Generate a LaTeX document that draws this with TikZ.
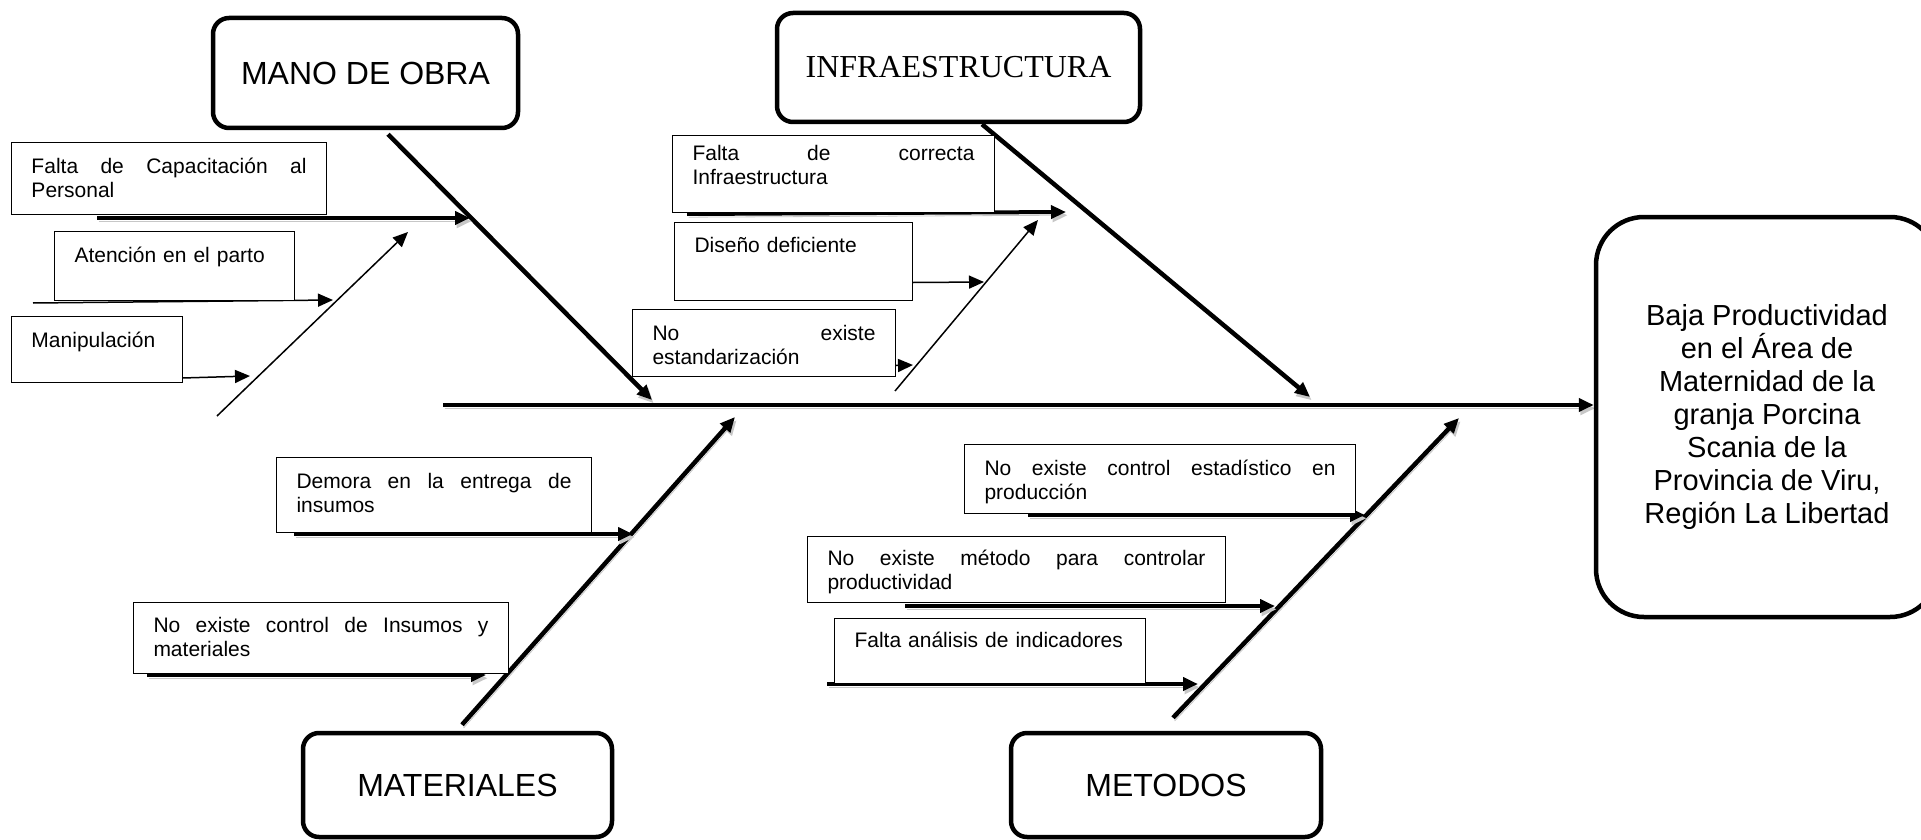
\documentclass[tikz,border=0pt]{standalone}
\usepackage{fontspec}
\setmainfont{Liberation Sans}
\newfontfamily\tnr{Liberation Serif}
\usetikzlibrary{arrows.meta,calc}
\pgfdeclarelayer{bg}
\pgfsetlayers{bg,main}
\tikzset{
  catbox/.style={draw, line width=2.25pt, rounded corners=8pt, fill=white, inner sep=0pt, align=center, font=\fontsize{16pt}{19pt}\selectfont},
  causebox/.style={draw, line width=0.5pt, fill=white, anchor=base west, inner xsep=10pt, inner ysep=0pt, align=left, font=\fontsize{10.5pt}{12pt}\selectfont},
  headtip/.style={-{Triangle[length=7.5pt,width=6.5pt]}},
  shade/.style={preaction={draw=black!22, transform canvas={shift={(0.8pt,-1.6pt)}}}},
  spineline/.style={line width=2pt, headtip, shade},
  boneline/.style={line width=2.25pt, headtip, shade},
  thickarr/.style={line width=2pt, headtip, shade},
  thinarr/.style={line width=0.75pt, headtip},
}
\begin{document}
\begin{tikzpicture}[x=0.5pt, y=-0.5pt]
\path[use as bounding box] (0,0) rectangle (1921,840);

% category boxes
\node[catbox, minimum width=152.5pt, minimum height=55pt] (mano) at (365.5,73) {MANO DE OBRA};
\node[catbox, minimum width=181.5pt, minimum height=54.5pt, font=\tnr\fontsize{16pt}{19pt}\selectfont] (infra) at (958.5,67.5) {INFRAESTRUCTURA};
\node[catbox, minimum width=154.5pt, minimum height=52pt] (mat) at (457.5,785) {MATERIALES};
\node[catbox, minimum width=155pt, minimum height=52pt] (met) at (1166,785) {METODOS};
\node[catbox, rounded corners=24pt, minimum width=171pt, minimum height=200pt, font=\fontsize{14.5pt}{16.5pt}\selectfont] (eff) at (1767,417) {Baja Productividad\\en el Área de\\Maternidad de la\\granja Porcina\\Scania de la\\Provincia de Viru,\\Región La Libertad};

% cause boxes
\node[causebox, text width=137.5pt, text height=15.5pt, text depth=20.5pt] (fcap) at (11,173) {Falta\hfill de\hfill Capacitación\hfill al\\Personal};
\node[causebox, text width=100pt, text height=15.5pt, text depth=19pt] (aten) at (54,262) {Atención en el parto};
\node[causebox, text width=65.5pt, text height=15.5pt, text depth=17.5pt] (manip) at (11,347) {Manipulación};
\node[causebox, text width=141pt, text height=12.5pt, text depth=25.5pt] (fcorr) at (672,161) {Falta\hfill de\hfill correcta\\Infraestructura};
\node[causebox, text width=99pt, text height=15pt, text depth=24pt] (dis) at (674,252) {Diseño deficiente};
\node[causebox, text width=111.5pt, text height=15.5pt, text depth=18pt] (noest) at (632,340) {No\hfill existe\\estandarización};
\node[causebox, text width=137.5pt, text height=15.5pt, text depth=22pt] (dem) at (276,488) {Demora\hfill en\hfill la\hfill entrega\hfill de\\insumos};
\node[causebox, text width=167.5pt, text height=15pt, text depth=20.5pt] (noins) at (133,632) {No\hfill existe\hfill control\hfill de\hfill Insumos\hfill y\\materiales};
\node[causebox, text width=175.5pt, text height=15.5pt, text depth=19pt] (noce) at (964,475) {No\hfill existe\hfill control\hfill estadístico\hfill en\\producción};
\node[causebox, text width=189pt, text height=14.5pt, text depth=18.5pt] (nomet) at (807,565) {No\hfill existe\hfill método\hfill para\hfill controlar\\productividad};
\node[causebox, text width=135.5pt, text height=14.5pt, text depth=18pt] (fan) at (834,647) {Falta análisis de indicadores};

% free ends
\coordinate (sp0) at (443,405);
\coordinate (mt) at (652,400);
\coordinate (it) at (1310,397);
\coordinate (matt) at (735,417);
\coordinate (mett) at (1459,418);
\coordinate (ms0) at (217,416);
\coordinate (ms1) at (408,232);
\coordinate (is0) at (895,391);
\coordinate (is1) at (1038,220);
\coordinate (a1s) at (97,218);   \coordinate (a1e) at (470,218);
\coordinate (a2s) at (33,303);   \coordinate (a2e) at (333,300);
\coordinate (a3s) at (47,382);   \coordinate (a3e) at (250,376);
\coordinate (a4s) at (687,214);  \coordinate (a4e) at (1066,212);
\coordinate (a5e) at (984,282);
\coordinate (a6e) at (913,365);
\coordinate (a7s) at (294,534);  \coordinate (a7e) at (633,534);
\coordinate (a8s) at (147,675);  \coordinate (a8e) at (486,675);
\coordinate (a9s) at (1028,515); \coordinate (a9e) at (1365,515);
\coordinate (a10s) at (905,606); \coordinate (a10e) at (1275,606);
\coordinate (a11s) at (827,684); \coordinate (a11e) at (1198,684);

\begin{pgfonlayer}{bg}
\fill[white] (0,0) rectangle (1921,840);
% spine
\draw[spineline] (sp0) -- (sp0 -| eff.west);
% main bones
\draw[boneline] ($(mano.south)+(22.5,4)$) -- (mt);
\draw[boneline] ($(infra.south)+(23.5,0)$) -- (it);
\draw[boneline] ($(mat.north)+(4.5,-6)$) -- (matt);
\draw[boneline] ($(met.north)+(7,-13)$) -- (mett);
% sub bones
\draw[thinarr] (ms0) -- (ms1);
\draw[thinarr] (is0) -- (is1);
% cause arrows
\draw[thickarr] (a1s) -- (a1e);
\draw[thinarr] (a2s) -- (a2e);
\draw[thinarr] (a3s) -- (a3e);
\draw[thickarr] (a4s) -- (a4e);
\draw[thinarr] ($(dis.south east)+(0,-18)$) -- (a5e);
\draw[thinarr] ($(noest.south east)+(0,-11)$) -- (a6e);
\draw[thickarr] (a7s) -- (a7e);
\draw[thickarr] (a8s) -- (a8e);
\draw[thickarr] (a9s) -- (a9e);
\draw[thickarr] (a10s) -- (a10e);
\draw[thickarr] (a11s) -- (a11e);
\end{pgfonlayer}
\end{tikzpicture}
\end{document}
